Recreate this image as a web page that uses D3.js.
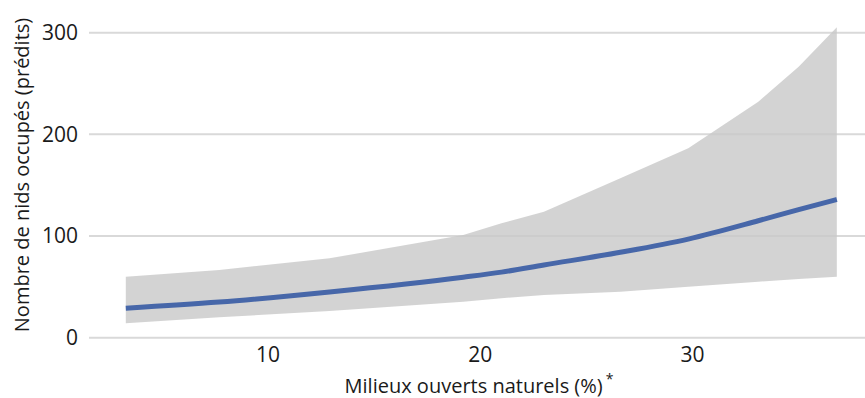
<!DOCTYPE html>
<html><head><meta charset="utf-8">
<script src="https://cdn.jsdelivr.net/npm/d3@7"></script>
<style>html,body{margin:0;padding:0;background:#fff;}svg{display:block;}</style>
</head><body>
<script>
const xVals  = [3.3, 7.7, 12.9, 19.2, 21.0, 23.0, 26.6, 29.8, 33.1, 35.0, 36.8];
const meanVals  = [29.0, 35.0, 45.0, 59.5, 64.5, 71.5, 84.0, 97.0, 115.0, 126.0, 136.0];
const upperVals = [60.0, 66.6, 78.1, 101.0, 112.5, 124.0, 156.8, 186.3, 232.0, 266.5, 305.3];
const lowerVals = [14.2, 20.1, 26.3, 35.4, 38.8, 42.0, 45.2, 50.2, 55.1, 57.7, 60.0];
const yTicks = [0, 100, 200, 300];
const xTicks = [10, 20, 30];
const xTitle = "Milieux ouverts naturels (%)";
const yTitle = "Nombre de nids occupés (prédits)";

const W = 865, H = 398;
const font = "'Open Sans', sans-serif";
const svg = d3.select("body").append("svg").attr("width", W).attr("height", H);

const x = d3.scaleLinear().domain([10, 30]).range([268, 692.5]);
const y = d3.scaleLinear().domain([0, 300]).range([337.7, 32.7]);
const gridX0 = 89, gridX1 = 865;

const data = xVals.map((v, i) => ({x: v, m: meanVals[i], u: upperVals[i], l: lowerVals[i]}));

// gridlines
svg.append("g").selectAll("line").data(yTicks).join("line")
  .attr("x1", gridX0).attr("x2", gridX1)
  .attr("y1", d => y(d)).attr("y2", d => y(d))
  .attr("stroke", "#d9d9d9").attr("stroke-width", 2);

// band
svg.append("path").datum(data)
  .attr("d", d3.area().x(d => x(d.x)).y0(d => y(d.l)).y1(d => y(d.u)))
  .attr("fill", "#c8c8c8").attr("fill-opacity", 0.8);

// mean line
svg.append("path").datum(data)
  .attr("d", d3.line().curve(d3.curveMonotoneX).x(d => x(d.x)).y(d => y(d.m)))
  .attr("fill", "none").attr("stroke", "#4767a9").attr("stroke-width", 5)
  .attr("stroke-linejoin", "round");

// y tick labels
svg.append("g").selectAll("text").data(yTicks).join("text")
  .attr("x", 78).attr("y", d => y(d)).attr("dy", "0.35em")
  .attr("text-anchor", "end").attr("font-family", font).attr("font-size", 21)
  .attr("fill", "#1a1a1a").text(d => d);

// x tick labels
svg.append("g").selectAll("text").data(xTicks).join("text")
  .attr("x", d => x(d)).attr("y", 362)
  .attr("text-anchor", "middle").attr("font-family", font).attr("font-size", 21)
  .attr("fill", "#1a1a1a").text(d => d);

// x title
const xt = svg.append("text").attr("x", 479).attr("y", 393)
  .attr("text-anchor", "middle").attr("font-family", font).attr("font-size", 20)
  .attr("fill", "#1a1a1a");
xt.append("tspan").text(xTitle);
xt.append("tspan").attr("dy", -9).attr("dx", 3).attr("font-size", 14).text("*");

// y title
svg.append("text")
  .attr("transform", "translate(29,175) rotate(-90)")
  .attr("text-anchor", "middle").attr("font-family", font).attr("font-size", 20)
  .attr("fill", "#1a1a1a").text(yTitle);
</script>
</body></html>
